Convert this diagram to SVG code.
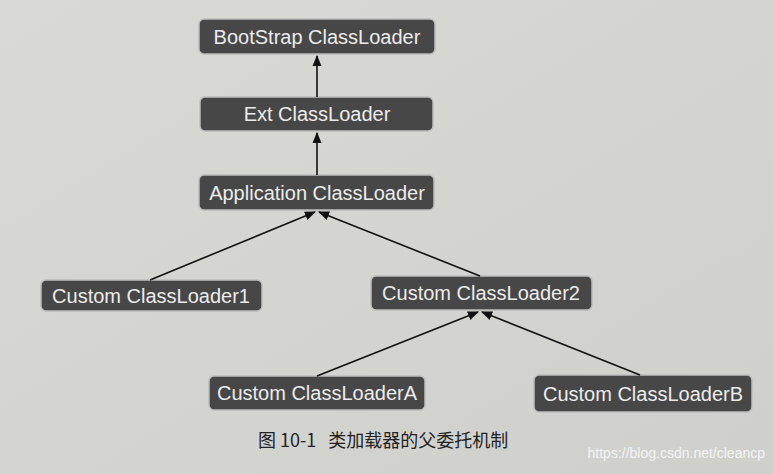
<svg xmlns="http://www.w3.org/2000/svg" width="773" height="474" viewBox="0 0 773 474">
<defs>
<marker id="ah" viewBox="0 0 10 10" refX="9" refY="5" markerWidth="7" markerHeight="7" orient="auto"><path d="M0,1 L10,5 L0,9 z" fill="#111"/></marker>
<linearGradient id="bg" x1="0" y1="0" x2="1" y2="1"><stop offset="0" stop-color="#d9d9d6"/><stop offset="1" stop-color="#cfcfcc"/></linearGradient>
</defs>
<style>
.n rect{fill:#474747;stroke:#bdbdbd;stroke-width:1.5}
.n text{font-family:"Liberation Sans",Arial,sans-serif;font-size:20px;fill:#ececec;text-anchor:middle;dominant-baseline:central}
#edges line{stroke:#111;stroke-width:1.6;marker-end:url(#ah)}
</style>
<rect width="773" height="474" fill="url(#bg)"/>
<g id="n-boot" class="n"><rect x="199" y="19" width="236" height="35" rx="5"/><text x="317" y="37">BootStrap ClassLoader</text></g>
<g id="n-ext" class="n"><rect x="200" y="97" width="233" height="34" rx="5"/><text x="317" y="114">Ext ClassLoader</text></g>
<g id="n-app" class="n"><rect x="199" y="175" width="235" height="35" rx="5"/><text x="317" y="193">Application ClassLoader</text></g>
<g id="n-c1" class="n"><rect x="41" y="280" width="221" height="31" rx="5"/><text x="151" y="296">Custom ClassLoader1</text></g>
<g id="n-c2" class="n"><rect x="371" y="276" width="221" height="34" rx="5"/><text x="481" y="293">Custom ClassLoader2</text></g>
<g id="n-ca" class="n"><rect x="209" y="376" width="216" height="34" rx="5"/><text x="317" y="393">Custom ClassLoaderA</text></g>
<g id="n-cb" class="n"><rect x="534" y="375" width="218" height="37" rx="5"/><text x="643" y="394">Custom ClassLoaderB</text></g>
<g id="edges">
<line x1="317" y1="97" x2="317" y2="56"/>
<line x1="317" y1="175" x2="317" y2="133"/>
<line x1="150" y1="280" x2="315" y2="212"/>
<line x1="480" y1="276" x2="319" y2="212"/>
<line x1="317" y1="376" x2="478" y2="312"/>
<line x1="640" y1="375" x2="482" y2="312"/>
</g>
<text x="258" y="447" xml:space="preserve" font-family="'Noto Sans CJK SC','Liberation Serif',serif" font-size="18" fill="#222">图 10-1   类加载器的父委托机制</text>
<text x="765" y="458" text-anchor="end" font-family="'Liberation Sans',Arial,sans-serif" font-size="14" fill="#f4f4f4">https://blog.csdn.net/cleancp</text>
</svg>
